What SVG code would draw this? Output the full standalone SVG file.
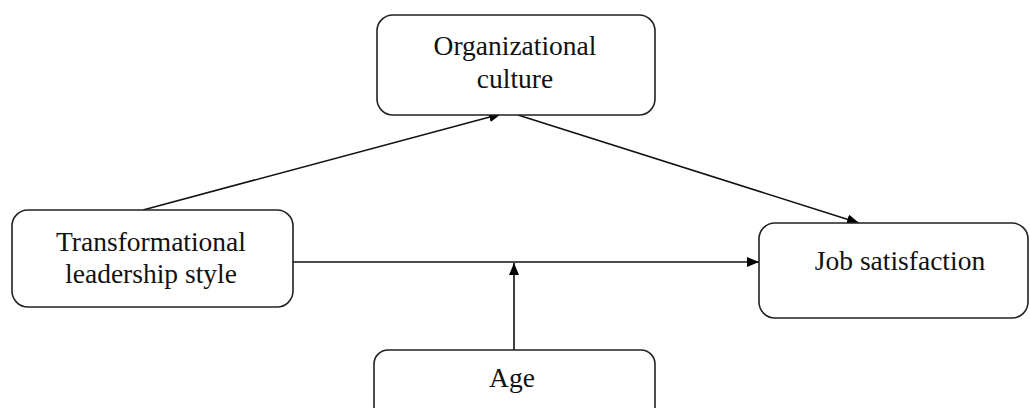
<svg xmlns="http://www.w3.org/2000/svg" width="1030" height="408" viewBox="0 0 1030 408">
<style>
.box{fill:#fff;stroke:#222;stroke-width:1.6}
.lbl{font-family:"Liberation Serif","Times New Roman",serif;font-size:27.5px;fill:#111;text-anchor:middle}
.conn{stroke:#111;stroke-width:1.6;fill:none;marker-end:url(#ah)}
</style>
<defs>
<marker id="ah" viewBox="0 0 12 10" refX="12" refY="5" markerWidth="12" markerHeight="10" markerUnits="userSpaceOnUse" orient="auto">
<path d="M0,0 L12,5 L0,10 Z" fill="#000"/>
</marker>
</defs>
<rect width="1030" height="408" fill="#fff"/>
<g id="connectors">
<line class="conn" x1="143" y1="210" x2="501" y2="114"/>
<line class="conn" x1="518" y1="115" x2="859" y2="223"/>
<line class="conn" x1="293" y1="262" x2="759" y2="262"/>
<line class="conn" x1="514" y1="350" x2="514" y2="263"/>
</g>
<g id="org-culture">
<rect class="box" x="377" y="15" width="278" height="100" rx="16"/>
<text class="lbl" x="515" y="55">Organizational</text>
<text class="lbl" x="515" y="88">culture</text>
</g>
<g id="transformational">
<rect class="box" x="12" y="210" width="281" height="97" rx="16"/>
<text class="lbl" x="151" y="251">Transformational</text>
<text class="lbl" x="151" y="283">leadership style</text>
</g>
<g id="job-satisfaction">
<rect class="box" x="759" y="223" width="269" height="95" rx="16"/>
<text class="lbl" x="900" y="270">Job satisfaction</text>
</g>
<g id="age">
<rect class="box" x="374" y="350" width="281" height="90" rx="14"/>
<text class="lbl" x="512" y="387">Age</text>
</g>
</svg>
